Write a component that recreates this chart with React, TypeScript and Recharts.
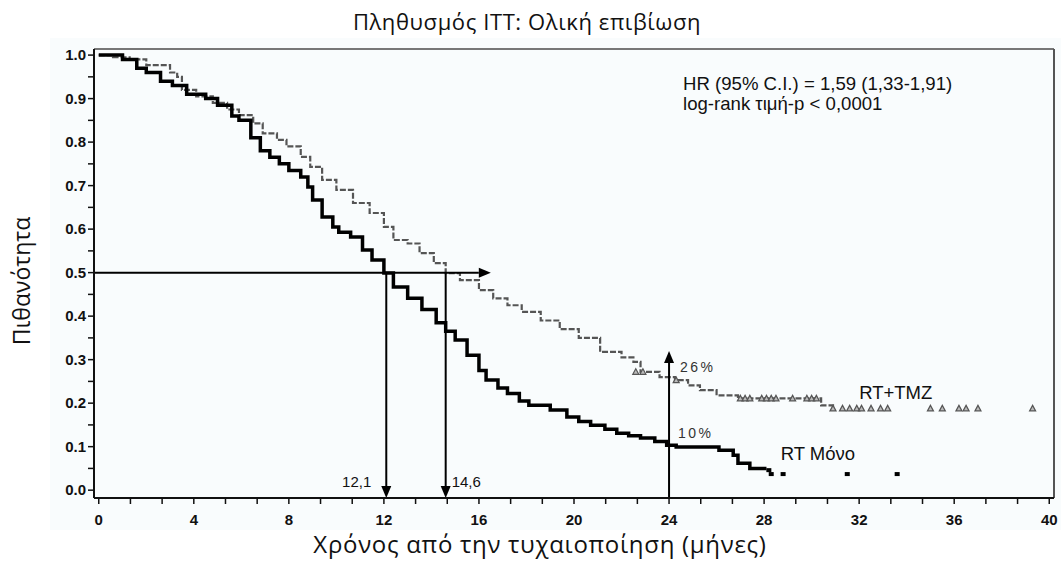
import {
  ComposedChart,
  Line,
  Scatter,
  XAxis,
  YAxis,
  ReferenceLine,
  ReferenceDot,
} from "recharts";

// Kaplan-Meier steps (months, survival probability)
const tmzMonths = [
  0, 0.6, 1.3, 2.0, 3.0, 3.3, 3.5, 4.1, 4.8, 5.4, 5.9, 6.5, 6.9, 7.5, 7.9, 8.5, 8.9, 9.4, 10.0, 10.7,
  11.4, 12.0, 12.4, 13.0, 13.5, 14.1, 14.6, 15.2, 16.0, 16.6, 17.2, 17.8, 18.6, 19.4, 20.2, 21.1,
  22.0, 22.5, 22.8, 23.6, 24.25, 24.8, 25.3, 26.0, 26.9, 30.4, 30.9,
];
const tmzSurvival = [
  1.0, 0.995, 0.99, 0.977, 0.96, 0.95, 0.92, 0.905, 0.89, 0.875, 0.862, 0.843, 0.82, 0.805, 0.79, 0.766,
  0.743, 0.713, 0.69, 0.66, 0.637, 0.605, 0.575, 0.567, 0.545, 0.522, 0.499, 0.483, 0.46, 0.441, 0.425,
  0.41, 0.39, 0.37, 0.35, 0.318, 0.305, 0.295, 0.272, 0.26, 0.253, 0.241, 0.23, 0.218, 0.211, 0.195, 0.188,
];

const rtMonths = [
  0, 0.6, 1.0, 1.6, 2.0, 2.6, 3.1, 3.7, 4.5, 5.0, 5.6, 5.9, 6.4, 6.8, 7.2, 7.6, 8.0, 8.5, 8.8, 9.0, 9.4,
  9.85, 10.1, 10.6, 11.1, 11.5, 12.0, 12.4, 13.0, 13.6, 14.2, 14.6, 15.0, 15.5, 16.0, 16.3, 16.8, 17.2,
  17.7, 18.1, 19.0, 19.7, 20.2, 20.7, 21.3, 21.8, 22.3, 22.8, 23.4, 23.9, 24.3, 26.1, 26.7, 26.9, 27.4,
  28.1,
];
const rtSurvival = [
  1.0, 1.0, 0.99, 0.97, 0.96, 0.94, 0.93, 0.91, 0.9, 0.885, 0.86, 0.85, 0.81, 0.78, 0.765, 0.75, 0.735,
  0.72, 0.697, 0.667, 0.628, 0.605, 0.593, 0.582, 0.552, 0.529, 0.499, 0.467, 0.441, 0.415, 0.385, 0.365,
  0.345, 0.31, 0.275, 0.253, 0.235, 0.222, 0.205, 0.195, 0.184, 0.168, 0.158, 0.149, 0.14, 0.131, 0.125,
  0.12, 0.112, 0.103, 0.099, 0.092, 0.08, 0.062, 0.05, 0.05,
];

// censoring marks
const tmzCensorMonths = [
  22.6, 22.9, 24.3, 27.0, 27.2, 27.4, 27.9, 28.1, 28.3, 28.5, 29.2, 29.8, 30.0, 30.2, 30.9, 31.3, 31.6,
  31.9, 32.1, 32.5, 32.9, 33.2, 35.0, 35.5, 36.2, 36.5, 37.0, 39.3,
];
const tmzCensorSurvival = [
  0.272, 0.272, 0.253, 0.211, 0.211, 0.211, 0.211, 0.211, 0.211, 0.211, 0.211, 0.211, 0.211, 0.211,
  0.188, 0.188, 0.188, 0.188, 0.188, 0.188, 0.188, 0.188, 0.188, 0.188, 0.188, 0.188, 0.188, 0.188,
];
const rtCensorMonths = [28.2, 28.3, 28.8, 31.5, 33.6];
const rtCensorSurvival = [0.046, 0.037, 0.037, 0.037, 0.037];

const xTickLabels = [0, 4, 8, 12, 16, 20, 24, 28, 32, 36, 40];
const yTickLabels = ["0.0", "0.1", "0.2", "0.3", "0.4", "0.5", "0.6", "0.7", "0.8", "0.9", "1.0"];

const medianRt = 12.1;
const medianTmz = 14.6;
const landmarkMonth = 24;
const landmarkTmz = "26%";
const landmarkRt = "10%";

const X_MIN = -0.2;
const X_MAX = 40.2;
const Y_MIN = -0.018;
const Y_MAX = 1.014;

const pts = (t: number[], s: number[]) => t.map((m, i) => ({ t: m, s: s[i] }));
const tmzData = pts(tmzMonths, tmzSurvival);
const rtData = pts(rtMonths, rtSurvival);
const tmzCensor = pts(tmzCensorMonths, tmzCensorSurvival);
const rtCensor = pts(rtCensorMonths, rtCensorSurvival);

const xTicks = xTickLabels.flatMap((v) => (v < 40 ? [v, v + 4 / 3, v + 8 / 3] : [v]));
const yTicks = yTickLabels.flatMap((l) => {
  const v = parseFloat(l);
  return v < 1 ? [v, v + 0.05] : [v];
});

const tickFont = { fontFamily: "'Liberation Sans', Arial, sans-serif", fontSize: 15, fontWeight: 700, fill: "#111" };
const noteFont = "'Liberation Sans', Arial, sans-serif";
const titleFont = "'Open Sans', 'Noto Sans', sans-serif";

function Arrow(p: any) {
  const { x1, y1, x2, y2 } = p;
  const dx = x2 - x1;
  const dy = y2 - y1;
  const len = Math.hypot(dx, dy) || 1;
  const ux = dx / len;
  const uy = dy / len;
  const L = 12;
  const W = 5;
  const bx = x2 - ux * L;
  const by = y2 - uy * L;
  return (
    <g>
      <line x1={x1} y1={y1} x2={bx} y2={by} stroke="#000" strokeWidth={2} />
      <polygon points={`${x2},${y2} ${bx - uy * W},${by + ux * W} ${bx + uy * W},${by - ux * W}`} fill="#000" />
    </g>
  );
}

const Triangle = (p: any) => (
  <path d={`M${p.cx},${p.cy - 3} L${p.cx + 3},${p.cy + 2.5} L${p.cx - 3},${p.cy + 2.5} Z`} fill="#bbb" stroke="#555" strokeWidth={1.2} />
);
const Square = (p: any) => <rect x={p.cx - 2.5} y={p.cy - 2} width={5} height={4} fill="#000" />;

// text anchored to a data point
const note =
  (text: string, dx: number, dy: number, anchor: "start" | "end", size: number, extra: any = {}) =>
  (props: any) => {
    const vb = props.viewBox;
    return (
      <text x={vb.x + dx} y={vb.y + dy} textAnchor={anchor} fontFamily={noteFont} fontSize={size} fill="#111" {...extra}>
        {text}
      </text>
    );
  };

export default function App() {
  return (
    <div style={{ position: "absolute", left: 0, top: 0, width: 1061, height: 564, background: "#fff" }}>
      <div style={{ position: "absolute", left: 50, top: 38, width: 1011, height: 492, background: "#f9fcfd" }} />
      <div style={{ position: "absolute", left: 0, top: 0 }}>
        <ComposedChart width={1061} height={564} margin={{ top: 49, right: 7, bottom: 26, left: 34 }}>
          <XAxis
            type="number"
            dataKey="t"
            domain={[X_MIN, X_MAX]}
            ticks={xTicks}
            interval={0}
            allowDataOverflow
            tickFormatter={(v: number) => {
              const r = Math.round(v);
              return Math.abs(v - r) < 1e-6 && r % 4 === 0 ? String(r) : "";
            }}
            height={40}
            tickSize={6}
            tickMargin={10}
            axisLine={{ stroke: "#111", strokeWidth: 2 }}
            tickLine={{ stroke: "#111", strokeWidth: 1.5 }}
            tick={tickFont}
          />
          <YAxis
            type="number"
            domain={[Y_MIN, Y_MAX]}
            ticks={yTicks}
            interval={0}
            allowDataOverflow
            tickFormatter={(v: number) => {
              const i = yTickLabels.findIndex((l) => Math.abs(parseFloat(l) - v) < 1e-6);
              return i >= 0 ? yTickLabels[i] : "";
            }}
            width={60}
            tickSize={6}
            tickMargin={2}
            axisLine={{ stroke: "#111", strokeWidth: 2 }}
            tickLine={{ stroke: "#111", strokeWidth: 1.5 }}
            tick={tickFont}
          />
          <ReferenceLine
            segment={[{ x: X_MIN, y: Y_MAX }, { x: X_MAX, y: Y_MAX }]}
            stroke="#777"
            strokeWidth={2}
            ifOverflow="visible"
          />
          <ReferenceLine
            segment={[{ x: X_MAX, y: Y_MIN }, { x: X_MAX, y: Y_MAX }]}
            stroke="#555"
            strokeWidth={2}
            ifOverflow="visible"
          />
          <Line
            data={tmzData}
            dataKey="s"
            type="stepAfter"
            stroke="#555"
            strokeWidth={2.2}
            strokeDasharray="6 2"
            dot={false}
            isAnimationActive={false}
          />
          <Line
            data={rtData}
            dataKey="s"
            type="stepAfter"
            stroke="#000"
            strokeWidth={3.5}
            dot={false}
            isAnimationActive={false}
          />
          <Scatter data={tmzCensor} dataKey="s" shape={Triangle} isAnimationActive={false} />
          <Scatter data={rtCensor} dataKey="s" shape={Square} isAnimationActive={false} />

          <ReferenceLine
            segment={[{ x: X_MIN, y: 0.5 }, { x: 16.5, y: 0.5 }]}
            shape={Arrow}
            ifOverflow="visible"
          />
          <ReferenceLine
            segment={[{ x: medianRt, y: 0.5 }, { x: medianRt, y: Y_MIN }]}
            shape={Arrow}
            ifOverflow="visible"
          />
          <ReferenceLine
            segment={[{ x: medianTmz, y: 0.5 }, { x: medianTmz, y: Y_MIN }]}
            shape={Arrow}
            ifOverflow="visible"
          />
          <ReferenceLine
            segment={[{ x: landmarkMonth, y: Y_MIN }, { x: landmarkMonth, y: 0.32 }]}
            shape={Arrow}
            ifOverflow="visible"
          />

          <ReferenceDot x={medianRt} y={0} r={0} fill="none" stroke="none" label={note("12,1", -15, -3, "end", 15)} ifOverflow="visible" />
          <ReferenceDot x={medianTmz} y={0} r={0} fill="none" stroke="none" label={note("14,6", 6, -3, "start", 15)} ifOverflow="visible" />
          <ReferenceDot
            x={landmarkMonth}
            y={0.26}
            r={0}
            fill="none"
            stroke="none"
            label={note(landmarkTmz, 11, -5, "start", 14, { letterSpacing: 2.5, fill: "#333" })}
            ifOverflow="visible"
          />
          <ReferenceDot
            x={landmarkMonth}
            y={0.105}
            r={0}
            fill="none"
            stroke="none"
            label={note(landmarkRt, 9, -6, "start", 14, { letterSpacing: 2.5, fill: "#333" })}
            ifOverflow="visible"
          />
          <ReferenceDot x={32} y={0.21} r={0} fill="none" stroke="none" label={note("RT+TMZ", 0, 0, "start", 18.5)} ifOverflow="visible" />
          <ReferenceDot x={28.7} y={0.07} r={0} fill="none" stroke="none" label={note("RT Μόνο", 0, 0, "start", 18.5)} ifOverflow="visible" />
        </ComposedChart>
      </div>
      <svg width={1061} height={564} style={{ position: "absolute", left: 0, top: 0, pointerEvents: "none" }}>
        <text x={527} y={30} textAnchor="middle" fontFamily={titleFont} fontSize={22} letterSpacing={0.6} fill="#111">
          Πληθυσμός ITT: Ολική επιβίωση
        </text>
        <text
          transform="translate(30,281) rotate(-90)"
          textAnchor="middle"
          fontFamily={titleFont}
          fontSize={23}
          fill="#111"
        >
          Πιθανότητα
        </text>
        <text x={540} y={553} textAnchor="middle" fontFamily={titleFont} fontSize={24} letterSpacing={0.7} fill="#111">
          Χρόνος από την τυχαιοποίηση (μήνες)
        </text>
        <text x={683} y={90} fontFamily={noteFont} fontSize={18.6} fill="#111">
          HR (95% C.I.) = 1,59 (1,33-1,91)
        </text>
        <text x={683} y={110} fontFamily={noteFont} fontSize={18.6} fill="#111">
          log-rank τιμή-p &lt; 0,0001
        </text>
      </svg>
    </div>
  );
}
